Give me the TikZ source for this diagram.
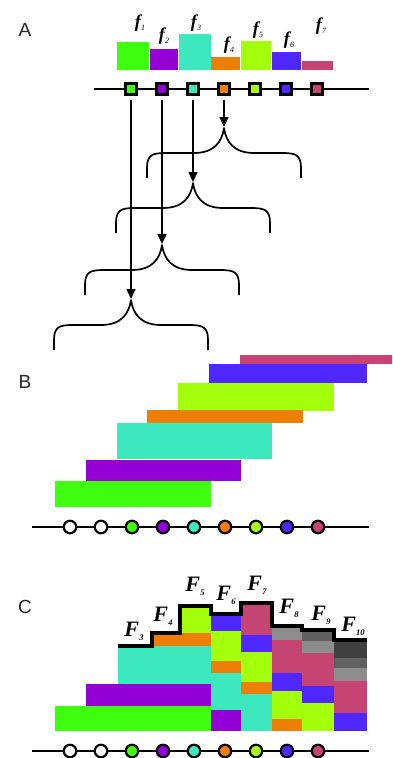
\documentclass[tikz,border=0pt]{standalone}
\usepackage{fontspec}
\setmainfont{Liberation Serif}
\newfontfamily\panelfont{Liberation Sans}
\usetikzlibrary{arrows.meta}

\definecolor{cg}{HTML}{3DFF0F}
\definecolor{cp}{HTML}{9400D6}
\definecolor{ct}{HTML}{3EE8BE}
\definecolor{co}{HTML}{EE7F06}
\definecolor{cy}{HTML}{A3FF0A}
\definecolor{cb}{HTML}{5028FF}
\definecolor{cr}{HTML}{C64474}
\definecolor{ga}{HTML}{8C8C8C}
\definecolor{gb}{HTML}{606060}
\definecolor{gc}{HTML}{404040}

% small f labels (panel A) and capital F labels (panel C)
\newcommand\flab[1]{{\fontsize{18}{18}\selectfont\bfseries\itshape f}\kern0.3pt{\fontsize{8}{8}\selectfont\itshape\raisebox{-3pt}{#1}}}
\newcommand\Flab[1]{{\fontsize{22}{22}\selectfont\bfseries\itshape F}\kern0.2pt{\fontsize{8.5}{8.5}\selectfont\bfseries\itshape\raisebox{-4pt}{#1}}}

\tikzset{
  panel/.style={font=\panelfont\fontsize{19}{19}\selectfont, text=black!85, inner sep=0},
  sq/.style={draw=black, line width=2.5pt, minimum size=11pt, inner sep=0},
  dot/.style={circle, draw=black, line width=2.2pt, minimum size=12.5pt, inner sep=0},
  baseline/.style={line width=2pt},
  arr/.style={line width=1.5pt, -{Triangle[length=10pt,width=9pt]}, shorten <=4pt, shorten >=1pt},
  bracestyle/.style={line width=1.7pt, line join=round},
  lab/.style={inner sep=0},
  ubrace/.pic={\draw[bracestyle] (-77,50) -- (-77,40) .. controls (-77,27) and (-72,25) .. (-58,25)
      -- (-30,25) .. controls (-10,25) and (-2,14) .. (0,0)
      .. controls (2,14) and (10,25) .. (30,25) -- (58,25)
      .. controls (72,25) and (77,27) .. (77,40) -- (77,50);},
}

\begin{document}
\begin{tikzpicture}[x=1pt,y=-1pt]
\useasboundingbox (0,0) rectangle (392,758);
\clip (0,0) rectangle (392,758);

% ---------------- panel A ----------------
\node[panel] (pa) at (25,30) {A};

% histogram bars f1..f7
\fill[cg] (117,42) rectangle (149,70);
\fill[cp] (150,49) rectangle (178,70);
\fill[ct] (179,34) rectangle (211,70);
\fill[co] (211,57) rectangle (240,70);
\fill[cy] (241,41) rectangle (271,70);
\fill[cb] (272,52) rectangle (301,70);
\fill[cr] (302,61) rectangle (333,70);

\node[lab] (f1) at (140,23) {\flab{1}};
\node[lab] (f2) at (164,36) {\flab{2}};
\node[lab] (f3) at (196,23) {\flab{3}};
\node[lab] (f4) at (229,45) {\flab{4}};
\node[lab] (f5) at (258,30) {\flab{5}};
\node[lab] (f6) at (289,40) {\flab{6}};
\node[lab] (f7) at (321,26) {\flab{7}};

% sequence line with square markers
\coordinate (aL) at (94,89);
\coordinate (aR) at (369,89);
\draw[baseline] (aL) -- (aR);
\foreach \i/\c in {1/cg,2/cp,3/ct,4/co,5/cy,6/cb,7/cr}
  \node[sq, fill=\c] (s\i) at ({100+31*\i},89) {};

% nested braces
\coordinate (t1) at (224,128);
\coordinate (t2) at (193,183);
\coordinate (t3) at (162,245);
\coordinate (t4) at (131,300);
\foreach \t in {t1,t2,t3,t4} \pic at (\t) {ubrace};

\draw[arr] (s4) -- (t1);
\draw[arr] (s3) -- (t2);
\draw[arr] (s2) -- (t3);
\draw[arr] (s1) -- (t4);

% ---------------- panel B ----------------
\node[panel] (pb) at (25,382) {B};

\fill[cr] (240,355) rectangle (396,364);
\fill[cb] (209,364) rectangle (367,383);
\fill[cy] (178,383) rectangle (334,411);
\fill[co] (147,410) rectangle (303,423);
\fill[ct] (117,423) rectangle (272,459);
\fill[cp] (86,460) rectangle (241,481);
\fill[cg] (55,481) rectangle (211,507);

\coordinate (bL) at (32,527);
\coordinate (bR) at (369,527);
\draw[baseline] (bL) -- (bR);
\foreach \i/\c in {1/white,2/white,3/cg,4/cp,5/ct,6/co,7/cy,8/cb,9/cr}
  \node[dot, fill=\c] (b\i) at ({39+31*\i},527) {};

% ---------------- panel C ----------------
\node[panel] (pc) at (25,607) {C};

\foreach \c/\xa/\ya/\xb/\yb in {
  cg/55/706/211/731, cp/86/684/211/706, ct/118/646/211/684,
  co/152/633/211/646, cy/180/606/211/633,
  cp/211/710/241/731, ct/211/673/241/710, co/211/661/241/673,
  cy/211/631/241/661, cb/211/614/241/631,
  ct/241/694/272/731, co/241/682/272/694,
  cy/241/652/272/682, cb/241/635/272/652, cr/241/603/272/635,
  co/272/719/302/731, cy/272/691/302/719, cb/272/673/302/691,
  cr/272/640/302/673, ga/272/626/302/640,
  cy/302/703/334/731, cb/302/686/334/703, cr/302/653/334/686,
  ga/302/641/334/653, gb/302/630/334/641,
  cb/334/713/367/731, cr/334/681/367/713, ga/334/668/367/681,
  gb/334/658/367/668, gc/334/640/367/658}
  \fill[\c] (\xa,\ya) rectangle (\xb,\yb);

% upper envelope
\draw[line width=4.5pt, line join=miter]
  (118,646) -- (152,646) -- (152,633) -- (180,633) -- (180,606)
  -- (211,606) -- (211,614) -- (241,614) -- (241,603) -- (272,603)
  -- (272,626) -- (302,626) -- (302,630) -- (334,630) -- (334,640) -- (367,640);

\node[lab] (F3) at (134,631) {\Flab{3}};
\node[lab] (F4) at (163,616) {\Flab{4}};
\node[lab] (F5) at (195,586) {\Flab{5}};
\node[lab] (F6) at (226,595) {\Flab{6}};
\node[lab] (F7) at (257,585) {\Flab{7}};
\node[lab] (F8) at (289,608) {\Flab{8}};
\node[lab] (F9) at (321,615) {\Flab{9}};
\node[lab] (F10) at (353,626) {\Flab{10}};

\coordinate (cL) at (32,751);
\coordinate (cR) at (369,751);
\draw[baseline] (cL) -- (cR);
\foreach \i/\c in {1/white,2/white,3/cg,4/cp,5/ct,6/co,7/cy,8/cb,9/cr}
  \node[dot, fill=\c] (c\i) at ({39+31*\i},751) {};
\end{tikzpicture}
\end{document}
